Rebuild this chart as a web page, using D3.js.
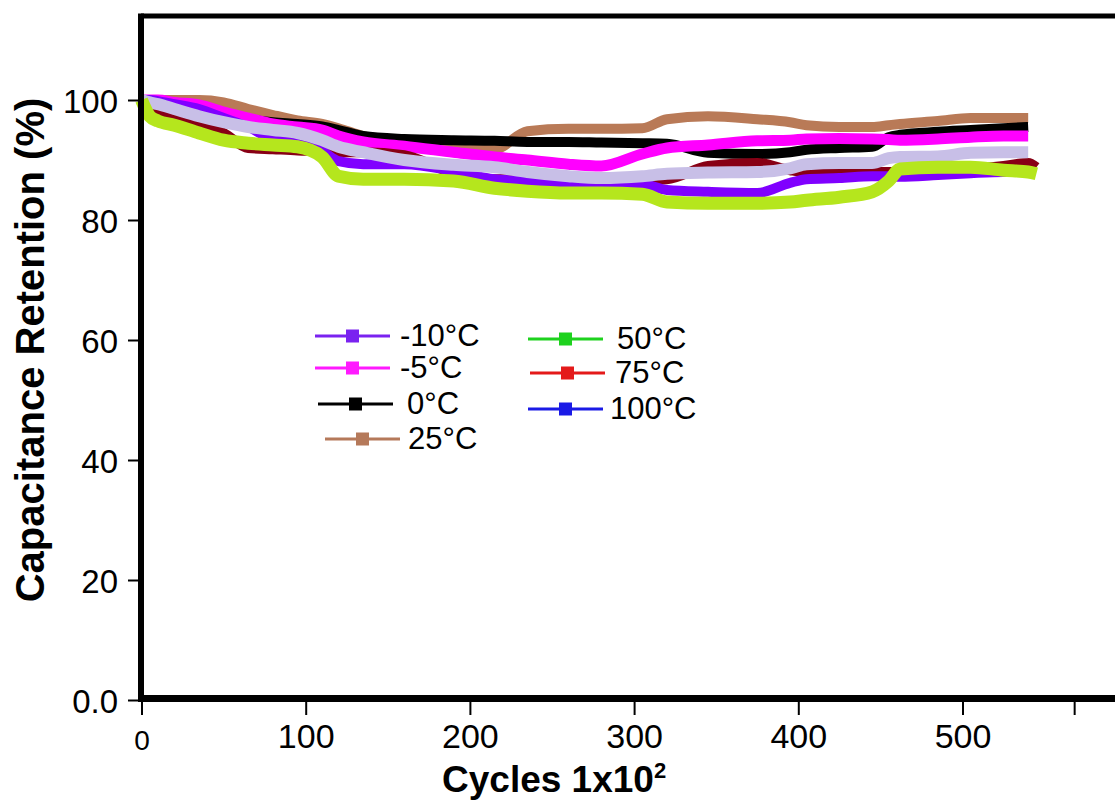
<!DOCTYPE html>
<html>
<head>
<meta charset="utf-8">
<script src="https://cdn.jsdelivr.net/npm/d3@7"></script>
<style>
  html, body { margin: 0; padding: 0; background: #fff; }
  svg { display: block; font-family: "Liberation Sans", Arial, sans-serif; }
</style>
</head>
<body>
<script>
// cycles (x 10^2) shared by all series
const cycles = [0, 5, 10, 20, 35, 50, 65, 80, 95, 110, 120, 135, 160, 190, 215, 235, 260, 280, 305, 320, 345, 375, 395, 405, 425, 445, 455, 462, 485, 505, 525, 540, 545];

// capacitance retention (%)
const retM10 = [100, 100, 99.8, 99.3, 98.5, 97, 95.5, 93.5, 93, 91.5, 89.8, 89.3, 89.3, 88.2, 86.8, 86.5, 86.2, 86.2, 86, 85, 84.7, 84.5, 86.2, 86.8, 87, 87.3, 87.3, 87.2, 87.5, 87.8, 88, 88, null];
const retM5  = [100, 100, 100, 99.6, 99.2, 98, 97, 96, 95.5, 95, 94, 93, 92.3, 91.3, 90.5, 90, 89.3, 89, 91, 92, 92.5, 93.2, 93.3, 93.5, 93.6, 93.5, 93.4, 93.3, 93.5, 93.8, 94, 94, null];
const ret0   = [100, 100, 99.8, 99.3, 98.5, 97.5, 96.8, 96.3, 96, 95.6, 95, 94, 93.5, 93.3, 93.2, 93, 93, 92.9, 92.8, 92.7, 91.2, 91, 91.3, 91.7, 92, 92.2, 93.8, 94.2, 94.7, 95, 95.3, 95.5, null];
const ret25  = [100, 100, 100, 100, 100, 99.6, 98.5, 97.5, 96.6, 96, 95.3, 94, 93, 92, 91.8, 94.8, 95.2, 95.2, 95.3, 96.8, 97.3, 96.8, 96.3, 95.8, 95.5, 95.5, 95.8, 96, 96.5, 97, 97, 97, null];
const ret50  = [100, 97.3, 96.5, 95.8, 94.5, 93.3, 92.8, 92.5, 92.2, 90.5, 87.3, 86.8, 86.8, 86.5, 85.3, 84.8, 84.5, 84.5, 84.3, 83, 82.8, 82.8, 83, 83.3, 83.8, 84.7, 86.5, 88.5, 88.8, 88.8, 88.3, 88, 87.7];
const ret75  = [100, 98.5, 97.8, 97, 96, 94.5, 92, 91.8, 91.6, 91.5, 91.3, 91.3, 90.8, 87.8, 86.8, 86.8, 86.7, 86.5, 86.7, 86.8, 89, 89.5, 88.3, 88, 88, 88, 88, 88, 88.3, 88.5, 89, 89.5, 88.8];
const ret100 = [100, 99.6, 99.3, 98.5, 97.3, 96.3, 95.5, 95, 94.5, 93.3, 92.2, 91.3, 90, 89.2, 88.8, 88, 87.3, 87, 87.3, 87.7, 87.9, 88, 88.6, 89.3, 89.5, 89.5, 90.3, 90.5, 90.6, 91.2, 91.3, 91.3, null];

const seriesLabels = ["-10°C", "-5°C", "0°C", "25°C", "50°C", "75°C", "100°C"];
const seriesValues = [retM10, retM5, ret0, ret25, ret50, ret75, ret100];

// plotted line colours and the (different) legend colours
const lineColors   = ["#8000ff", "#ff00ff", "#000000", "#b97a57", "#b5e61d", "#880015", "#c8bfe7"];
const legendColors = ["#7a22f0", "#ff1aff", "#000000", "#b5795a", "#1ed21e", "#e41a1a", "#1a1ae6"];
const lineWidths   = [10, 11, 10, 10, 13, 10, 12];
const drawOrder    = [3, 2, 1, 5, 0, 6, 4];

const xTicks = [0, 100, 200, 300, 400, 500, 568];
const xTickLabels = ["0", "100", "200", "300", "400", "500", ""];
const yTicks = [0, 20, 40, 60, 80, 100];
const yTickLabels = ["0.0", "20", "40", "60", "80", "100"];

const W = 1115, H = 801;

const svg = d3.select("body").append("svg")
    .attr("width", W)
    .attr("height", H);

const xScale = d3.scaleLinear().domain([0, 100]).range([141.5, 305.7]);
const yScale = d3.scaleLinear().domain([0, 114]).range([700, 16]);

//lines
const line = d3.line()
    .defined(d => d.v != null)
    .curve(d3.curveMonotoneX)
    .x(d => xScale(d.c))
    .y(d => yScale(d.v));

drawOrder.forEach(i => {
  const pts = cycles.map((c, j) => ({c: c, v: seriesValues[i][j]}));
  svg.append("path")
      .datum(pts)
      .attr("d", line)
      .attr("fill", "none")
      .attr("stroke", lineColors[i])
      .attr("stroke-width", lineWidths[i])
      .attr("stroke-linejoin", "round");
});

//axes
const xAxis = d3.axisBottom(xScale)
    .tickValues(xTicks)
    .tickFormat((d, i) => xTickLabels[i])
    .tickSize(13)
    .tickPadding(9);

const gx = svg.append("g")
    .attr("transform", "translate(0,702)")
    .call(xAxis);
gx.select(".domain").remove();
gx.selectAll(".tick line").attr("stroke", "#000").attr("stroke-width", 2);
gx.selectAll(".tick text")
    .attr("fill", "#000")
    .style("font-size", "34px");
gx.selectAll(".tick text").filter(d => d === 0)
    .style("font-size", "28px")
    .attr("y", 28);

const yAxis = d3.axisLeft(yScale)
    .tickValues(yTicks)
    .tickFormat((d, i) => yTickLabels[i])
    .tickSize(13)
    .tickPadding(10);

const gy = svg.append("g")
    .attr("transform", "translate(141,0)")
    .call(yAxis);
gy.select(".domain").remove();
gy.selectAll(".tick line").attr("stroke", "#000").attr("stroke-width", 2);
gy.selectAll(".tick text")
    .attr("fill", "#000")
    .attr("dy", "0.38em")
    .style("font-size", "33px");

//frame (right side runs off the picture)
svg.append("line").attr("x1", 141).attr("x2", W + 10).attr("y1", 16).attr("y2", 16)
    .attr("stroke", "#000").attr("stroke-width", 5);
svg.append("line").attr("x1", 141).attr("x2", W + 10).attr("y1", 698.5).attr("y2", 698.5)
    .attr("stroke", "#000").attr("stroke-width", 7);
svg.append("line").attr("x1", 141).attr("x2", 141).attr("y1", 13.5).attr("y2", 702)
    .attr("stroke", "#000").attr("stroke-width", 6);

//axis titles
svg.append("text")
    .attr("transform", "translate(44,350) rotate(-90)")
    .attr("text-anchor", "middle")
    .style("font-size", "40px")
    .style("font-weight", "bold")
    .text("Capacitance Retention (%)");

const xt = svg.append("text")
    .attr("x", 442)
    .attr("y", 792)
    .style("font-size", "37px")
    .style("font-weight", "bold")
    .text("Cycles 1x10");
xt.append("tspan")
    .attr("dy", -14)
    .style("font-size", "22px")
    .text("2");

//legend, two columns
const legendLayout = [
  {x: 315, y: 336, tx: 400}, {x: 315, y: 368, tx: 400}, {x: 318, y: 404, tx: 407}, {x: 325, y: 439, tx: 408},
  {x: 528, y: 339, tx: 617}, {x: 530, y: 373, tx: 615}, {x: 528, y: 409, tx: 610}
];

const legend = svg.append("g");
seriesLabels.forEach((lab, i) => {
  const p = legendLayout[i];
  const g = legend.append("g").attr("transform", "translate(" + p.x + "," + p.y + ")");
  g.append("line")
      .attr("x1", 0).attr("x2", 75)
      .attr("stroke", legendColors[i])
      .attr("stroke-width", 3);
  g.append("rect")
      .attr("x", 31).attr("y", -6.5)
      .attr("width", 13).attr("height", 13)
      .attr("fill", legendColors[i]);
  g.append("text")
      .attr("x", p.tx - p.x)
      .attr("y", 10)
      .style("font-size", "31px")
      .text(lab);
});
</script>
</body>
</html>
